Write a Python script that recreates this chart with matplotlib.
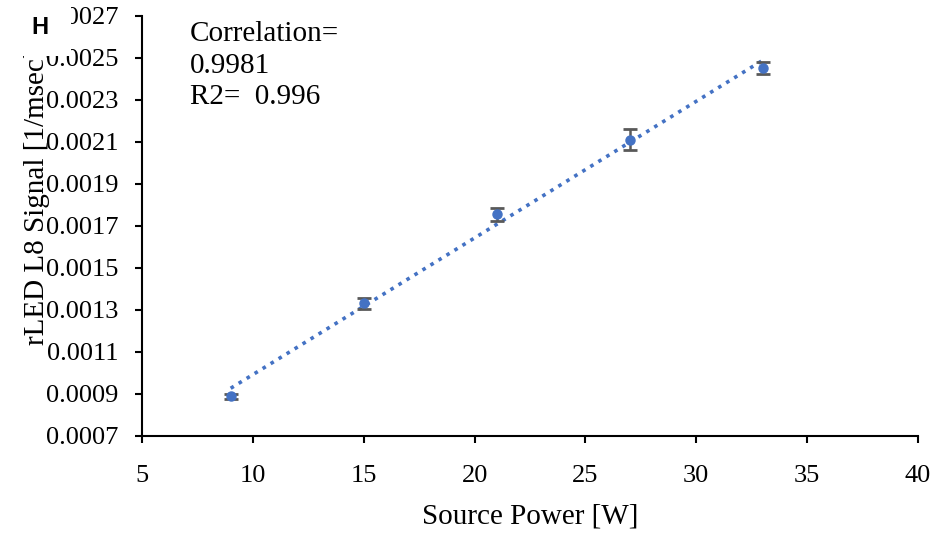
import matplotlib
matplotlib.use('Agg')
import matplotlib.pyplot as plt
from matplotlib.patches import Rectangle
import numpy as np

# source power [W] and signal [1/msec]
power = np.array([9, 15, 21, 27, 33])
signal = np.array([0.00089, 0.001332, 0.001755, 0.002111, 0.002453])
err = np.array([0.000012, 0.000025, 0.00003, 0.00005, 0.00003])
x_ticks = [5, 10, 15, 20, 25, 30, 35, 40]
y_ticks = [0.0007, 0.0009, 0.0011, 0.0013, 0.0015, 0.0017, 0.0019, 0.0021, 0.0023, 0.0025, 0.0027]

plt.rcParams['font.family'] = ['Liberation Serif', 'DejaVu Serif']

W, H = 938, 535
fig = plt.figure(figsize=(W / 100, H / 100), dpi=100)
ax = fig.add_axes([142 / W, 1 - 436 / H, 776 / W, 420 / H])

blue = '#4472C4'
ax.errorbar(power, signal, yerr=err, fmt='o', color=blue, markersize=6.5,
            ecolor='#595959', elinewidth=1.8, capsize=5, capthick=2, zorder=3)

# linear trendline
k, b = np.polyfit(power, signal, 1)
xs = np.array([power.min(), power.max()])
ax.plot(xs, k * xs + b, linestyle=(0, (1, 1.6)), color=blue, linewidth=2.6, zorder=2)

ax.set_xlim(5, 40)
ax.set_ylim(0.0007, 0.0027)
ax.set_xticks(x_ticks)
ax.set_yticks(y_ticks)
ax.set_yticklabels(['%.4f' % v for v in y_ticks])
ax.tick_params(direction='out', length=5, width=1.5, labelsize=19, colors='black')
ax.tick_params(axis='x', pad=16)
ax.tick_params(axis='y', pad=12)
ax.spines['top'].set_visible(False)
ax.spines['right'].set_visible(False)
for s in ['left', 'bottom']:
    ax.spines[s].set_linewidth(1.5)

ax.set_xlabel('Source Power [W]', fontsize=21, labelpad=12)
fig.text(37 / W, 1 - 345 / H, 'rLED L8 Signal [1/msec]', rotation=90,
         fontsize=21, ha='center', va='bottom')

fig.text(190 / W, 1 - 21 / H, 'Correlation=\n0.9981\nR2=  0.996',
         fontsize=21, va='top', ha='left', linespacing=1.28)

# white panel label box clips the top-left corner
fig.add_artist(Rectangle((0, 1 - 56 / H), 71 / W, 56 / H, transform=fig.transFigure,
                         facecolor='white', edgecolor='none', zorder=10))
fig.text(40 / W, 1 - 27 / H, 'H', fontsize=17, fontweight='bold',
         family=['Liberation Sans', 'DejaVu Sans'], ha='center', va='center', zorder=11)

fig.savefig('out.png', dpi=100)
